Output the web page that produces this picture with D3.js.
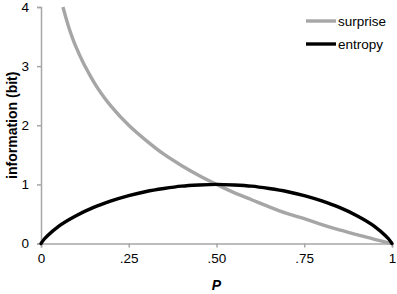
<!DOCTYPE html>
<html>
<head>
<meta charset="utf-8">
<script src="https://cdn.jsdelivr.net/npm/d3@7"></script>
<style>
  body { margin: 0; background: #fff; }
  text { font-family: "Liberation Sans", Arial, sans-serif; }
</style>
</head>
<body>
<svg width="397" height="294"></svg>
<script>
  'use strict';

  // values
  const surpriseP = [0.0625, 0.07, 0.08, 0.09, 0.10, 0.12, 0.14, 0.16, 0.18, 0.20, 0.25, 0.30, 0.35, 0.40, 0.45, 0.50, 0.55, 0.60, 0.65, 0.70, 0.75, 0.80, 0.85, 0.90, 0.95, 1.00];
  const surpriseBits = [4.00, 3.84, 3.64, 3.47, 3.32, 3.06, 2.84, 2.64, 2.47, 2.32, 2.00, 1.74, 1.51, 1.32, 1.15, 1.00, 0.86, 0.74, 0.62, 0.51, 0.42, 0.32, 0.23, 0.15, 0.07, 0.00];

  const entropyP = [0, 0.01, 0.02, 0.05, 0.10, 0.15, 0.20, 0.25, 0.30, 0.35, 0.40, 0.45, 0.50, 0.55, 0.60, 0.65, 0.70, 0.75, 0.80, 0.85, 0.90, 0.95, 0.98, 0.99, 1];
  const entropyBits = [0, 0.08, 0.14, 0.29, 0.47, 0.61, 0.72, 0.81, 0.88, 0.93, 0.97, 0.99, 1.00, 0.99, 0.97, 0.93, 0.88, 0.81, 0.72, 0.61, 0.47, 0.29, 0.14, 0.08, 0];

  const xTicks = [0, 0.25, 0.5, 0.75, 1];
  const xTickLabels = ['0', '.25', '.50', '.75', '1'];
  const yTicks = [0, 1, 2, 3, 4];
  const seriesNames = ['surprise', 'entropy'];

  const svg = d3.select('svg');
  const axisColor = '#a6a6a6';

  const x = d3.scaleLinear().domain([0, 1]).range([41, 392]);
  const y = d3.scaleLinear().domain([0, 4]).range([243.5, 7]);

  // y axis
  const yAxis = svg.append('g')
      .attr('transform', `translate(${x(0)},0)`)
      .call(d3.axisLeft(y).tickValues(yTicks).tickSize(4).tickPadding(8).tickFormat(d3.format('d')));
  yAxis.select('.domain').attr('stroke', axisColor).attr('stroke-width', 1.5);
  yAxis.selectAll('.tick line').attr('stroke', axisColor).attr('stroke-width', 1.5);
  yAxis.selectAll('.tick text').attr('font-size', 13.5).attr('fill', '#000')
      .style('font-family', '"Liberation Sans", Arial, sans-serif');

  // x axis
  const xAxis = svg.append('g')
      .attr('transform', `translate(0,${y(0)})`)
      .call(d3.axisBottom(x).tickValues(xTicks).tickSize(4).tickPadding(6)
        .tickFormat((d, i) => xTickLabels[i]));
  xAxis.select('.domain').attr('stroke', axisColor).attr('stroke-width', 1.5);
  xAxis.selectAll('.tick line').attr('stroke', axisColor).attr('stroke-width', 1.5);
  xAxis.selectAll('.tick text').attr('font-size', 13.5).attr('fill', '#000')
      .style('font-family', '"Liberation Sans", Arial, sans-serif');

  // axis titles
  svg.append('text')
      .attr('x', x(0.5)).attr('y', 290)
      .attr('text-anchor', 'middle')
      .attr('font-size', 14).attr('font-weight', 'bold').attr('font-style', 'italic')
      .text('P');

  svg.append('text')
      .attr('transform', `translate(17,${y(2)}) rotate(-90)`)
      .attr('text-anchor', 'middle')
      .attr('font-size', 14).attr('font-weight', 'bold')
      .text('information (bit)');

  const line = d3.line()
      .x(d => x(d[0]))
      .y(d => y(d[1]))
      .curve(d3.curveMonotoneX);

  svg.append('path')
      .datum(surpriseP.map((p, i) => [p, surpriseBits[i]]))
      .attr('fill', 'none')
      .attr('stroke', '#a6a6a6')
      .attr('stroke-width', 3.4)
      .attr('d', line);

  svg.append('path')
      .datum(entropyP.map((p, i) => [p, entropyBits[i]]))
      .attr('fill', 'none')
      .attr('stroke', '#000')
      .attr('stroke-width', 3.4)
      .attr('stroke-linecap', 'round')
      .attr('d', line);

  // legend
  const colors = ['#a6a6a6', '#000'];
  const legend = svg.append('g');
  seriesNames.forEach((name, i) => {
    const ly = 21 + i * 23;
    legend.append('line')
        .attr('x1', 306).attr('x2', 336)
        .attr('y1', ly).attr('y2', ly)
        .attr('stroke', colors[i]).attr('stroke-width', 3.4);
    legend.append('text')
        .attr('x', 338).attr('y', ly + 4.5)
        .attr('font-size', 13.5)
        .text(name);
  });
</script>
</body>
</html>
